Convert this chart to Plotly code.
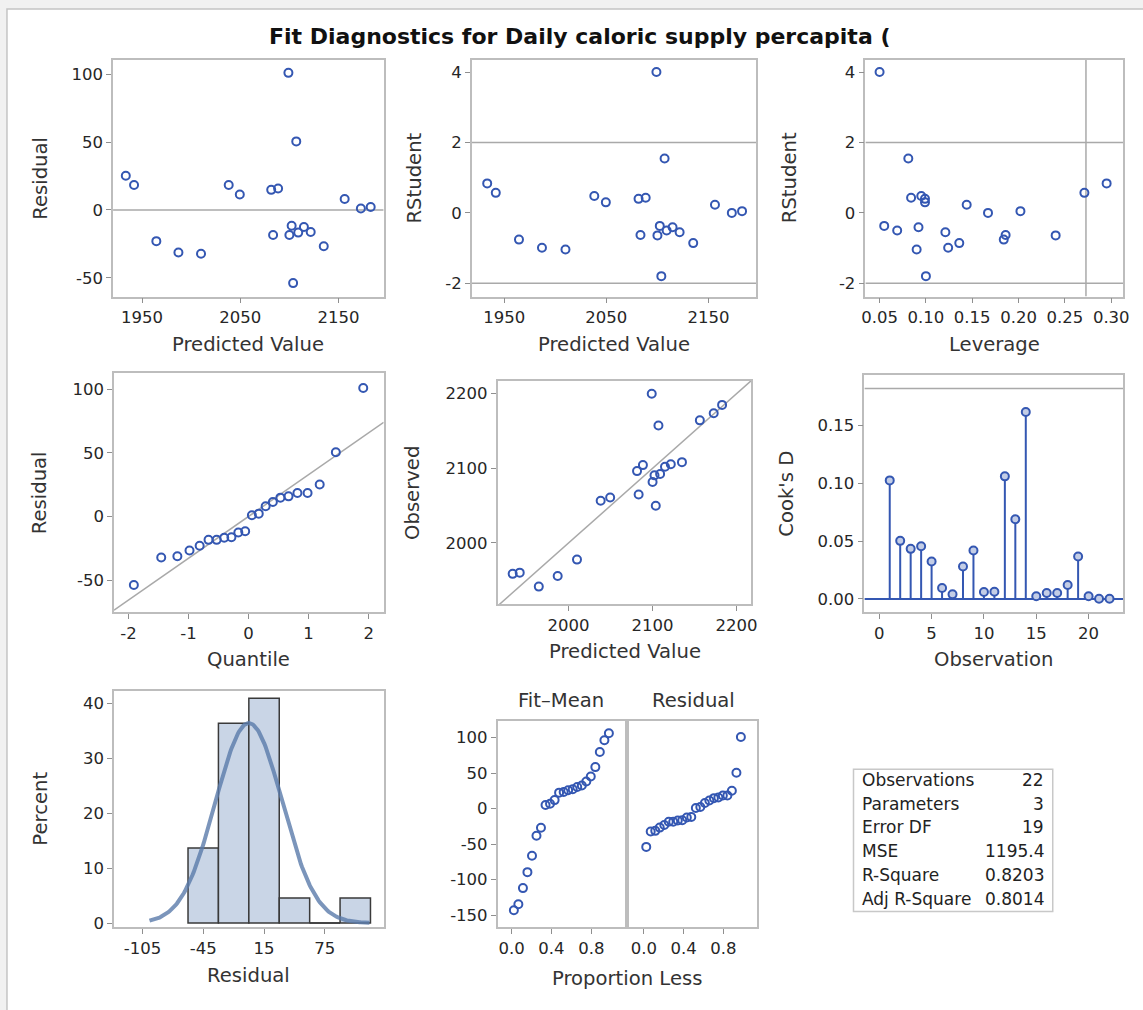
import numpy as np
import plotly.graph_objects as go

W, H = 1143, 1010

# ---------------- data ----------------
predicted = [1933.4, 1941.8, 1964.5, 1987.0, 2010.0, 2038.2, 2049.5, 2081.5, 2088.5, 2083.4, 2099.0,
             2107.0, 2102.3, 2100.0, 2109.0, 2114.8, 2121.7, 2103.8, 2135.0, 2156.3, 2172.8, 2182.8]
residual = [25.2, 18.4, -23.0, -31.3, -32.3, 18.4, 11.4, 14.8, 15.8, -18.4, 101.0,
            50.5, -11.7, -18.4, -16.7, -12.6, -16.3, -53.9, -26.7, 8.0, 1.0, 2.2]
rstudent = [0.84, 0.57, -0.76, -0.99, -1.04, 0.48, 0.30, 0.40, 0.43, -0.63, 4.01,
            1.55, -0.37, -0.64, -0.50, -0.41, -0.55, -1.80, -0.86, 0.23, 0.00, 0.05]
leverage = [0.295, 0.271, 0.184, 0.124, 0.090, 0.095, 0.099, 0.099, 0.084, 0.186, 0.050,
            0.081, 0.055, 0.240, 0.069, 0.092, 0.121, 0.100, 0.136, 0.144, 0.167, 0.202]
observation = list(range(1, 23))
cooks_d = [0.1024, 0.0502, 0.0433, 0.0456, 0.0324, 0.0095, 0.0040, 0.0281, 0.0419, 0.0060, 0.0063,
           0.1059, 0.0688, 0.1615, 0.0023, 0.0052, 0.0052, 0.0120, 0.0367, 0.0023, 0.0002, 0.0002]
normal_quantile = [-1.910, -1.454, -1.185, -0.983, -0.814, -0.666, -0.531, -0.405, -0.285, -0.170, -0.056,
                   0.056, 0.170, 0.285, 0.405, 0.531, 0.666, 0.814, 0.983, 1.185, 1.454, 1.910]
proportion_less = [0.023, 0.068, 0.114, 0.159, 0.205, 0.250, 0.295, 0.341, 0.386, 0.432, 0.477,
                   0.523, 0.568, 0.614, 0.659, 0.705, 0.750, 0.795, 0.841, 0.886, 0.932, 0.977]
hist_bin_centers = [-45, -15, 15, 45, 75, 105]
hist_percent = [13.64, 36.36, 40.91, 4.55, 0.0, 4.55]
hist_bin_width = 30
resid_mean, resid_sd = 0.0, 32.9
curve_start, curve_end = -98, 119
leverage_cutoff = 0.2727
cooks_cutoff = 0.1818
rstudent_limits = [-2, 2]
stat_labels = ["Observations", "Parameters", "Error DF", "MSE", "R-Square", "Adj R-Square"]
stat_values = ["22", "3", "19", "1195.4", "0.8203", "0.8014"]
title_text = "Fit Diagnostics for Daily caloric supply percapita ("

# ---------------- derived ----------------
observed = [p + r for p, r in zip(predicted, residual)]
pred_mean = float(np.mean(predicted))
fit_minus_mean = sorted(p - pred_mean for p in predicted)
resid_sorted = sorted(residual)

# ---------------- style ----------------
FONT = "DejaVu Sans"
MARK = "#3457b2"
REF = "#a9a9a9"
FRAME = "#bdbdbd"
TICKF = dict(family=FONT, size=16.5, color="#262626")
TITLEF = dict(family=FONT, size=19.6, color="#333333")

# pixel boxes: (left, right, top, bottom)
boxes = {
    1: (110, 383, 60, 298),
    2: (472, 759, 60, 298),
    3: (869, 1129, 60, 298),
    4: (111, 383, 375, 615),
    5: (498, 754, 383, 607),
    6: (868, 1129, 377, 615),
    7: (111, 383, 694, 932),
    8: (498, 626, 725, 932),
    9: (631, 760, 725, 932),
}

fig = go.Figure()
layout = {}
ranges = {}


def labels(vals, fmt):
    return [format(v, fmt) for v in vals]


def ax(i, xr, yr, xt, yt, xfmt="g", yfmt="g", ylabels=True):
    l, r, t, b = boxes[i]
    sx = "" if i == 1 else str(i)
    common = dict(showline=True, mirror=True, linecolor=FRAME, linewidth=1.5,
                  ticks="outside", ticklen=5, tickwidth=1.2, tickcolor="#8f8f8f",
                  showgrid=False, zeroline=False, tickfont=TICKF, fixedrange=True,
                  tickmode="array")
    xa = dict(common, domain=[l / W, r / W], range=xr, tickvals=xt, ticktext=labels(xt, xfmt),
              anchor="y" + sx)
    ya = dict(common, domain=[1 - b / H, 1 - t / H], range=yr, tickvals=yt, ticktext=labels(yt, yfmt),
              anchor="x" + sx)
    if not ylabels:
        ya["showticklabels"] = False
        ya["ticks"] = ""
    layout["xaxis" + sx] = xa
    layout["yaxis" + sx] = ya
    axes = ("x" + sx, "y" + sx)
    ranges[axes] = (xr, yr)
    return axes


def line_trace(axes, x, y, color=REF, width=1.5):
    fig.add_trace(go.Scatter(x=x, y=y, mode="lines", xaxis=axes[0], yaxis=axes[1],
                             line=dict(color=color, width=width), showlegend=False, hoverinfo="skip"))


def hline(axes, v, color=REF, width=1.5):
    xr, _ = ranges[axes]
    line_trace(axes, list(xr), [v, v], color, width)


def vline(axes, v, color=REF, width=1.5):
    _, yr = ranges[axes]
    line_trace(axes, [v, v], list(yr), color, width)


def scatter_open(x, y, axes):
    fig.add_trace(go.Scatter(x=x, y=y, mode="markers", xaxis=axes[0], yaxis=axes[1],
                             marker=dict(symbol="circle-open", size=8, color=MARK,
                                         line=dict(width=2, color=MARK)),
                             showlegend=False, hoverinfo="skip"))


# Panel 1: Residual vs Predicted
a1 = ax(1, [1920.4, 2196], [-63.8, 110.7], [1950, 2050, 2150], [-50, 0, 50, 100])
hline(a1, 0)
scatter_open(predicted, residual, a1)

# Panel 2: RStudent vs Predicted
a2 = ax(2, [1918.4, 2196.8], [-2.38, 4.36], [1950, 2050, 2150], [-2, 0, 2, 4])
for v in rstudent_limits:
    hline(a2, v)
scatter_open(predicted, rstudent, a2)

# Panel 3: RStudent vs Leverage
a3 = ax(3, [0.0347, 0.3128], [-2.38, 4.36], [0.05, 0.10, 0.15, 0.20, 0.25, 0.30], [-2, 0, 2, 4], xfmt=".2f")
for v in rstudent_limits:
    hline(a3, v)
vline(a3, leverage_cutoff)
scatter_open(leverage, rstudent, a3)

# Panel 4: Q-Q plot
a4 = ax(4, [-2.24, 2.25], [-75.1, 112.7], [-2, -1, 0, 1, 2], [-50, 0, 50, 100])
qx = np.array(ranges[a4][0])
line_trace(a4, qx, resid_mean + resid_sd * qx)
scatter_open(normal_quantile, resid_sorted, a4)

# Panel 5: Observed vs Predicted
a5 = ax(5, [1915.5, 2217.7], [1918.2, 2216.9], [2000, 2100, 2200], [2000, 2100, 2200])
dx = [1900, 2230]
line_trace(a5, dx, dx)
scatter_open(predicted, observed, a5)

# Panel 6: Cook's D
a6 = ax(6, [-1.42, 23.3], [-0.0112, 0.1933], [0, 5, 10, 15, 20], [0, 0.05, 0.10, 0.15], yfmt=".2f")
hline(a6, cooks_cutoff)
hline(a6, 0, color=MARK, width=2)
sx, sy = [], []
for o, d in zip(observation, cooks_d):
    sx += [o, o, None]
    sy += [0, d, None]
line_trace(a6, sx, sy, color=MARK, width=2)
fig.add_trace(go.Scatter(x=observation, y=cooks_d, mode="markers", xaxis=a6[0], yaxis=a6[1],
                         marker=dict(symbol="circle", size=8, color="#c3cde6",
                                     line=dict(width=2, color=MARK)),
                         showlegend=False, hoverinfo="skip"))

# Panel 7: Residual histogram
a7 = ax(7, [-133, 133], [-0.79, 42.3], [-105, -45, 15, 75], [0, 10, 20, 30, 40])
fig.add_trace(go.Bar(x=hist_bin_centers, y=hist_percent, width=hist_bin_width, xaxis=a7[0], yaxis=a7[1],
                     marker=dict(color="#c9d5e6", line=dict(color="#3a3a3a", width=1.5)),
                     showlegend=False, hoverinfo="skip"))
for c, p in zip(hist_bin_centers, hist_percent):
    if p == 0:
        line_trace(a7, [c - hist_bin_width / 2, c + hist_bin_width / 2], [0, 0], color="#3a3a3a", width=1.5)
cx = np.linspace(curve_start, curve_end, 200)
cy = 100 * hist_bin_width * np.exp(-0.5 * ((cx - resid_mean) / resid_sd) ** 2) / (resid_sd * np.sqrt(2 * np.pi))
line_trace(a7, cx, cy, color="rgba(90,122,170,0.8)", width=4)

# Panel 8: Residual-Fit spread plot
a8 = ax(8, [-0.14, 1.134], [-167.3, 122.9], [0.0, 0.4, 0.8], [-150, -100, -50, 0, 50, 100], xfmt=".1f")
a9 = ax(9, [-0.146, 1.143], [-167.3, 122.9], [0.0, 0.4, 0.8], [-150, -100, -50, 0, 50, 100],
        xfmt=".1f", ylabels=False)
scatter_open(proportion_less, fit_minus_mean, a8)
scatter_open(proportion_less, resid_sorted, a9)

# ---------------- annotations (titles) ----------------
ann = []


def text(x, y, s, font=TITLEF, angle=0, xanchor="center"):
    ann.append(dict(x=x / W, y=1 - y / H, xref="paper", yref="paper", text=s, showarrow=False,
                    font=font, textangle=angle, xanchor=xanchor, yanchor="middle"))


text(581, 37, "<b>" + title_text + "</b>", font=dict(family=FONT, size=22, color="#111111"))

xtitles = {1: "Predicted Value", 2: "Predicted Value", 3: "Leverage", 4: "Quantile",
           5: "Predicted Value", 6: "Observation", 7: "Residual"}
for i, s in xtitles.items():
    l, r, t, b = boxes[i]
    text((l + r) / 2, b + 48, s)
text((boxes[8][0] + boxes[9][1]) / 2, boxes[8][3] + 51, "Proportion Less")

ytitles = {1: ("Residual", 36), 2: ("RStudent", 414), 3: ("RStudent", 792), 4: ("Residual", 36),
           5: ("Observed", 412), 6: ("Cook's D", 789), 7: ("Percent", 37)}
for i, (s, xp) in ytitles.items():
    l, r, t, b = boxes[i]
    text(xp, (t + b) / 2, s, angle=-90)

text((boxes[8][0] + boxes[8][1]) / 2, 704, "Fit\u2013Mean")
text((boxes[9][0] + boxes[9][1]) / 2, 704, "Residual")

# stats table
tl, tr, tt, tb = 857, 1058, 773, 916
fig.add_shape(type="rect", xref="paper", yref="paper", x0=tl / W, x1=tr / W, y0=1 - tb / H, y1=1 - tt / H,
              line=dict(color="#c8c8c8", width=1.5), fillcolor="white")
TABF = dict(family=FONT, size=17, color="#222222")
for k, (lab, val) in enumerate(zip(stat_labels, stat_values)):
    yy = 784 + k * 23.8
    text(864, yy, lab, font=TABF, xanchor="left")
    ann.append(dict(x=1051 / W, y=1 - yy / H, xref="paper", yref="paper", text=val, showarrow=False,
                    font=TABF, xanchor="right", yanchor="middle"))

# page frame
fig.add_shape(type="rect", xref="paper", yref="paper", x0=3 / W, x1=1.02, y0=-0.02, y1=1 - 9 / H,
              line=dict(color="#c4c4c4", width=1.5), fillcolor="white", layer="below")

fig.update_layout(width=W, height=H, margin=dict(l=0, r=0, t=0, b=0),
                  paper_bgcolor="#f1f1f1", plot_bgcolor="rgba(0,0,0,0)", showlegend=False,
                  annotations=ann, font=dict(family=FONT), **layout)

fig.write_html("out.html", config={"displayModeBar": False},
               post_script="document.body.style.margin='0px';document.body.style.overflow='hidden';")
